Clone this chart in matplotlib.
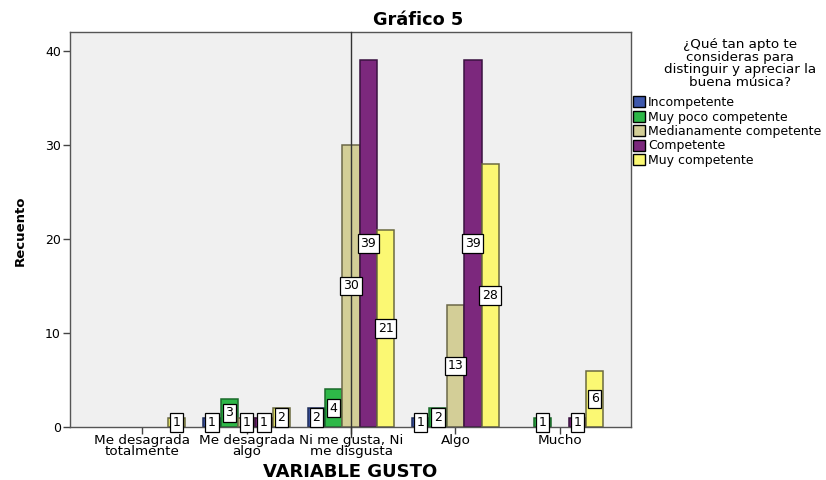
import matplotlib
matplotlib.use("Agg")
import matplotlib.pyplot as plt
import numpy as np

plt.rcParams['font.family'] = ['DejaVu Sans']

categories = ["Me desagrada\ntotalmente", "Me desagrada\nalgo", "Ni me gusta, Ni\nme disgusta", "Algo", "Mucho"]
series_names = ["Incompetente", "Muy poco competente", "Medianamente competente", "Competente", "Muy competente"]
incompetente = [0, 1, 2, 1, 0]
muy_poco = [0, 3, 4, 2, 1]
medianamente = [0, 1, 30, 13, 0]
competente = [0, 1, 39, 39, 1]
muy_competente = [1, 2, 21, 28, 6]
series_values = [incompetente, muy_poco, medianamente, competente, muy_competente]
colors = ["#3E58AC", "#2EB848", "#D3CE97", "#7C287D", "#FBF873"]
edges = ["#1f2d5a", "#1a6a2a", "#6b6848", "#3a1240", "#6b6a40"]

fig = plt.figure(figsize=(8.26, 4.8), dpi=100)
ax = fig.add_axes([70/826, 1-427/480, (631-70)/826, (427-32)/480])
ax.set_facecolor("#F0F0F0")

x = np.arange(len(categories))
w = 0.166
for i, (vals, c, ec) in enumerate(zip(series_values, colors, edges)):
    vals = np.array(vals)
    pos = x + (i - 2) * w
    nz = vals > 0
    ax.bar(pos[nz], vals[nz], width=w, color=c, edgecolor=ec, linewidth=1.1, zorder=2)
    for p, v in zip(pos[nz], vals[nz]):
        ax.text(p, v / 2, str(v), ha='center', va='center', fontsize=9, zorder=4,
                bbox=dict(boxstyle='square,pad=0.22', fc='white', ec='black', lw=0.9))

ax.axvline(2, ymin=-0.025, ymax=1, color='#333333', lw=1.0, zorder=3, clip_on=False)

ax.set_xlim(-0.69, 4.68)
ax.set_ylim(0, 42)
ax.set_yticks([0, 10, 20, 30, 40])
ax.set_xticks(x)
ax.set_xticklabels(categories, fontsize=9.7, linespacing=0.8)
ax.tick_params(axis='y', direction='out', length=5, width=1, color='#444444', labelsize=9, pad=1.5)
ax.tick_params(axis='x', direction='out', length=5, width=1, color='#444444', pad=0)
for s in ax.spines.values():
    s.set_color('#555555')
    s.set_linewidth(1.0)

fig.text(418/826, 1-20/480, "Gráfico 5", ha='center', va='center', fontsize=12.8, fontweight='bold')
fig.text(20/826, 1-231/480, "Recuento", ha='center', va='center', rotation=90, fontsize=9.5, fontweight='bold')
fig.text(350/826, 1-472/480, "VARIABLE GUSTO", ha='center', va='center', fontsize=13, fontweight='bold')

fig.text(740/826, 1-38/480, "¿Qué tan apto te\nconsideras para\ndistinguir y apreciar la\nbuena música?",
         ha='center', va='top', fontsize=9.7, linespacing=0.95)

handles = [plt.Rectangle((0, 0), 1, 1, fc=c, ec='black', lw=1.0) for c in colors]
fig.legend(handles, series_names, loc='upper left', bbox_to_anchor=(633/826, 1-96/480),
           frameon=False, fontsize=9, handlelength=0.95, handleheight=0.95,
           handletextpad=0.25, labelspacing=0.12, borderaxespad=0, borderpad=0)

fig.savefig("out.png", dpi=100)
